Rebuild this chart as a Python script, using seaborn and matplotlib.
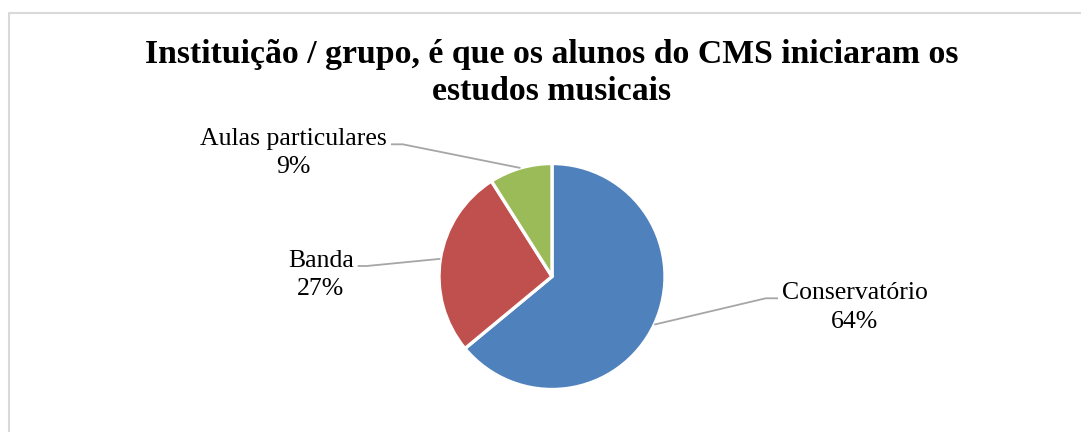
import matplotlib
matplotlib.use("Agg")
import matplotlib.pyplot as plt
import numpy as np
import seaborn as sns

# Where students of the CMS started their musical studies
categories = ["Conservatório", "Banda", "Aulas particulares"]
shares = [64, 27, 9]
colors = ["#4F81BD", "#C0504D", "#9BBB59"]
title_lines = ["Instituição / grupo, é que os alunos do CMS iniciaram os",
               "estudos musicais"]

sns.set_theme(style="white")
plt.rcParams["font.family"] = ["Liberation Serif", "DejaVu Serif"]

W, H = 1081, 432
fig = plt.figure(figsize=(W / 100, H / 100), dpi=100)
ax = fig.add_axes([0, 0, 1, 1])


def Y(y):
    """Convert a top-down pixel row into the axes' upward y."""
    return H - y


pie_center = (552, Y(276.5))
pie_radius = 113

wedges, _ = ax.pie(
    shares,
    colors=colors,
    startangle=90,
    counterclock=False,
    center=pie_center,
    radius=pie_radius,
    wedgeprops=dict(edgecolor="white", linewidth=2.4),
)
ax.set_xlim(0, W)
ax.set_ylim(0, H)
ax.set_aspect("equal")
ax.axis("off")

# Label layout: leader elbow, leader end, text centre x, two baselines
layout = [
    dict(elbow=(765.7, 298.3), end=(778, 298.3), tx=855, b1=299.3, b2=327.7),
    dict(elbow=(366.7, 266.0), end=(357.7, 266.0), tx=321, b1=266.7, b2=295.0),
    dict(elbow=(402.7, 144.3), end=(391, 144.3), tx=293.5, b1=145.0, b2=173.3),
]

label_size = 18.5
for wedge, name, val, lay in zip(wedges, categories, shares, layout):
    mid = np.deg2rad((wedge.theta1 + wedge.theta2) / 2)
    sx = pie_center[0] + pie_radius * np.cos(mid)
    sy = pie_center[1] + pie_radius * np.sin(mid)
    ex, ey = lay["elbow"]
    fx, fy = lay["end"]
    ax.plot([sx, ex, fx], [sy, Y(ey), Y(fy)], color="#A6A6A6", lw=1.3,
            solid_capstyle="butt", zorder=1)
    ax.text(lay["tx"], Y(lay["b1"]), name, ha="center", va="baseline",
            fontsize=label_size, color="#000000")
    ax.text(lay["tx"], Y(lay["b2"]), f"{val}%", ha="center", va="baseline",
            fontsize=label_size, color="#000000")

# Title, two centred lines
for line, base in zip(title_lines, [63.3, 99.5]):
    ax.text(551.5, Y(base), line, ha="center", va="baseline",
            fontsize=24.3, fontweight="bold", color="#000000")

# Light chart-area frame along the left and top edges
ax.plot([8.5, 8.5, W + 5], [-5, Y(12.5), Y(12.5)], color="#D9D9D9", lw=1.5,
        clip_on=False)

fig.savefig("out.png", dpi=100, facecolor="white")
